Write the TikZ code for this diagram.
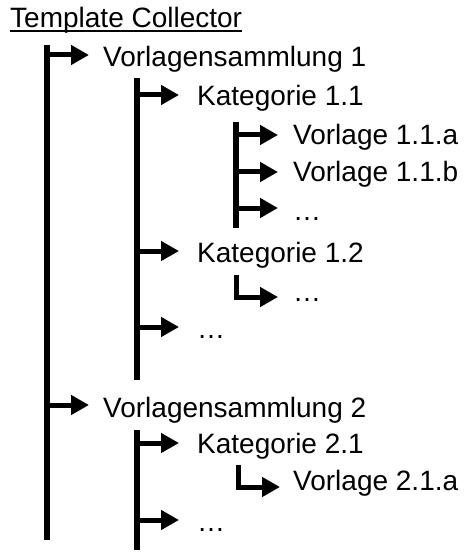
\documentclass[tikz,border=0pt]{standalone}
\usepackage{fontspec}
\setmainfont{Liberation Sans}
\usetikzlibrary{arrows.meta}
\begin{document}
\begin{tikzpicture}[x=1pt,y=-1pt,
  lbl/.style={anchor=base west,inner sep=0pt,font=\fontsize{28}{32}\selectfont},
  trunk/.style={line width=6pt,line cap=butt},
  arr/.style={line width=5pt,line join=miter,-{Triangle[length=18pt,width=19pt]}}]
\useasboundingbox (0,0) rectangle (471,553);
% title
\node[lbl] (title) at (10,28) {Template Collector};
\draw[line width=2pt] ([yshift=-3.5pt]title.base west) -- ([yshift=-3.5pt]title.base east);
% labels
\node[lbl] (vs1) at (103,67) {Vorlagensammlung 1};
\node[lbl] (k11) at (197,106) {Kategorie 1.1};
\node[lbl] (v11a) at (293,145) {Vorlage 1.1.a};
\node[lbl] (v11b) at (293,182) {Vorlage 1.1.b};
\node[lbl] (d11) at (293,220) {…};
\node[lbl] (k12) at (197,262) {Kategorie 1.2};
\node[lbl] (d12) at (293,301) {…};
\node[lbl] (d1) at (197,338) {…};
\node[lbl] (vs2) at (103,417) {Vorlagensammlung 2};
\node[lbl] (k21) at (197,453) {Kategorie 2.1};
\node[lbl] (v21a) at (293,490) {Vorlage 2.1.a};
\node[lbl] (d2) at (197,531) {…};
% trunks
\coordinate (t0a) at (47,45);  \coordinate (t0b) at (47,540);
\coordinate (t1a) at (137,78); \coordinate (t1b) at (137,380);
\coordinate (t2a) at (236,122);\coordinate (t2b) at (236,228);
\coordinate (t3a) at (137,430);\coordinate (t3b) at (137,550);
\draw[trunk] (t0a) -- (t0b);
\draw[trunk] (t1a) -- (t1b);
\draw[trunk] (t2a) -- (t2b);
\draw[trunk] (t3a) -- (t3b);
% arrow tips
\coordinate (p1) at (89,55);   \coordinate (p9) at (89,405);
\coordinate (p2) at (179,95);  \coordinate (p6) at (179,251);
\coordinate (p8) at (179,327); \coordinate (p10) at (179,443);
\coordinate (p12) at (179,520);
\coordinate (p3) at (278,135); \coordinate (p4) at (278,172);
\coordinate (p5) at (278,208);
\coordinate (p7) at (278,297); \coordinate (p11) at (280,487);
\draw[arr] (t0a |- p1) -- (p1);
\draw[arr] (t0a |- p9) -- (p9);
\draw[arr] (t1a |- p2) -- (p2);
\draw[arr] (t1a |- p6) -- (p6);
\draw[arr] (t1a |- p8) -- (p8);
\draw[arr] (t3a |- p10) -- (p10);
\draw[arr] (t3a |- p12) -- (p12);
\draw[arr] (t2a |- p3) -- (p3);
\draw[arr] (t2a |- p4) -- (p4);
\draw[arr] (t2a |- p5) -- (p5);
% L-shaped connectors
\coordinate (l1) at (236,275); \coordinate (l2) at (238,465);
\draw[arr] (l1) |- (p7);
\draw[arr] (l2) |- (p11);
\end{tikzpicture}
\end{document}
